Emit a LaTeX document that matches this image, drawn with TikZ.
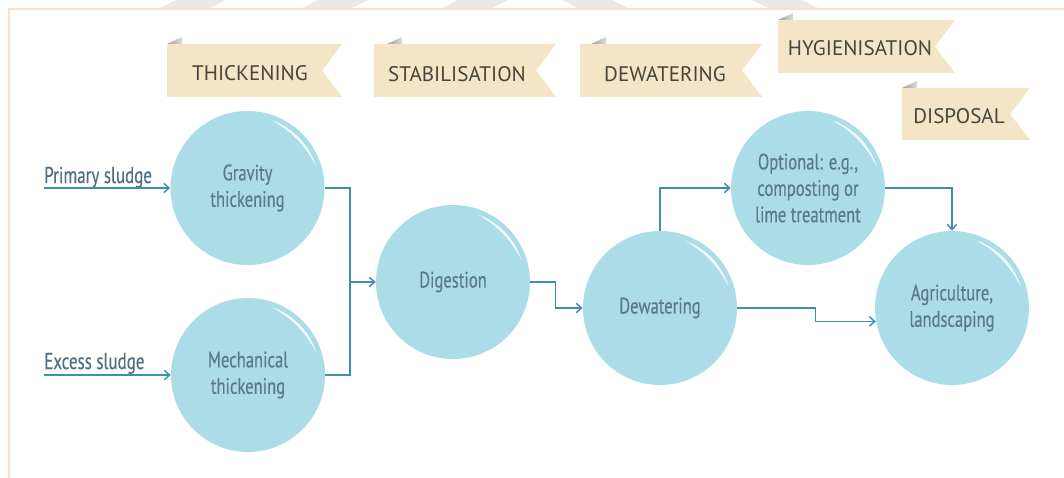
\documentclass[tikz,border=0pt]{standalone}
\usepackage{fontspec}
\setmainfont{PT Sans}
\newfontfamily\condfont[FakeStretch=0.74,FakeBold=0.25]{PT Sans}
\usetikzlibrary{arrows.meta,calc}

\definecolor{bubble}{HTML}{ABDCE7}
\definecolor{flow}{HTML}{3F8FB2}
\definecolor{bubbletext}{HTML}{5B7A86}
\definecolor{inlettext}{HTML}{4F6E7E}
\definecolor{bannerfill}{HTML}{F3E5C5}
\definecolor{bannertext}{HTML}{45453F}
\definecolor{framecol}{HTML}{FBE0CE}
\definecolor{foldcol}{HTML}{9E9C94}
\definecolor{stripecol}{HTML}{E9E9E9}

% flag-shaped banner: left x, top y, tip x, bottom y, fold offset
\newcommand\bannerflag[5]{%
  \fill[bannerfill] (#1,#2) -- (#3,#2) -- ({#3-20},{(#2+#4)/2}) -- (#3,#4) -- (#1,#4) -- cycle;
  \shade[left color=foldcol, right color=foldcol!35] ({#1+#5},#2) -- ({#1+#5+15},{#2-7}) -- ({#1+#5+15},#2) -- cycle;
}
% glossy highlight near the upper right rim of a bubble
\newcommand\gloss[1]{%
  \fill[white,opacity=0.85] ($(#1.center)+(70:54pt)$) arc[start angle=70,end angle=18,radius=54pt]
    to[bend right=15] ($(#1.center)+(70:54pt)$);
}

\begin{document}
\begin{tikzpicture}[x=0.75pt,y=-0.75pt,
  bubblenode/.style={circle,fill=bubble,minimum size=115.5pt,inner sep=0pt,align=center,
    text=bubbletext,font=\condfont\fontsize{16.8}{19.8}\selectfont},
  flowplain/.style={draw=flow,line width=1.1pt},
  flowline/.style={flowplain,-{Straight Barb[length=4pt,width=7pt]}},
  bannerlabel/.style={text=bannertext,inner sep=0pt,font=\fontsize{15.8}{18}\selectfont},
  inletlabel/.style={anchor=base west,inner sep=0pt,text=inlettext,
    font=\condfont\fontsize{17.2}{19}\selectfont}]

\useasboundingbox (0,0) rectangle (1064,478);
\fill[white] (0,0) rectangle (1064,478);

% faint stripes along the top edge
\foreach \s in {160,302,442}
  \fill[stripecol] ({\s+16},0) -- ({\s+66},0) -- ({\s+50},8) -- (\s,8) -- cycle;
\foreach \s in {562,752}
  \fill[stripecol] (\s,0) -- ({\s+50},0) -- ({\s+66},8) -- ({\s+16},8) -- cycle;

% frame
\draw[framecol,line width=1.6pt] (9,478) -- (9,9) -- (1064,9);

% stage banners
\bannerflag{167}{44}{342}{97}{0}
\bannerflag{374}{44}{556}{97}{13}
\bannerflag{580}{44}{762}{97}{11}
\bannerflag{778}{20}{955}{73}{0}
\bannerflag{902}{88}{1030}{140}{0}
\node[bannerlabel] (hThick) at (250,73) {THICKENING};
\node[bannerlabel] (hStab)  at (457,74) {STABILISATION};
\node[bannerlabel] (hDew)   at (665,74) {DEWATERING};
\node[bannerlabel] (hHyg)   at (860,48) {HYGIENISATION};
\node[bannerlabel] (hDisp)  at (959,116) {DISPOSAL};

% process bubbles
\node[bubblenode] (grav) at (247.5,188) {Gravity\\thickening};
\node[bubblenode] (mech) at (248,375) {Mechanical\\thickening};
\node[bubblenode] (dig)  at (453,282) {Digestion};
\node[bubblenode] (dew)  at (660,308) {Dewatering};
\node[bubblenode] (opt)  at (808,188) {Optional: e.g.,\\composting or\\lime treatment};
\node[bubblenode] (agri) at (952,308) {Agriculture,\\landscaping};
\foreach \b in {grav,mech,dig,dew,opt,agri} {\gloss{\b}}

% inflows
\node[inletlabel] (lblP) at (44,183) {Primary sludge};
\node[inletlabel] (lblE) at (44,369) {Excess sludge};
\coordinate (inP) at (44,188);
\coordinate (inE) at (44,375);
\draw[flowline] (inP) -- (grav.west);
\draw[flowline] (inE) -- (mech.west);

% flow between stages
\coordinate (bus) at (350,282);
\draw[flowplain] (grav.east) -| (bus);
\draw[flowplain] (mech.east) -| (bus);
\draw[flowline] (bus) -- (dig.west);
\draw[flowline] (dig.east) -- ++(25,0) |- (dew.west);
\draw[flowline] (dew.north) |- (opt.west);
\draw[flowline] (opt.east) -| (agri.north);
\draw[flowline] (dew.east) -- ++(78,0) |- (agri.190);
\end{tikzpicture}
\end{document}
